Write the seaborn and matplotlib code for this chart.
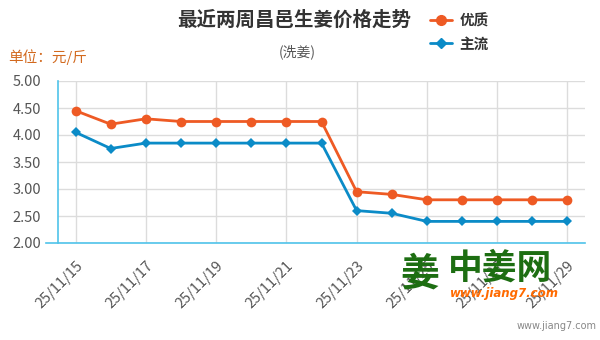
import matplotlib
matplotlib.use("Agg")
import matplotlib.pyplot as plt
from matplotlib.lines import Line2D
import seaborn as sns
import pandas as pd

# Daily ginger prices, Changyi (washed ginger), yuan per jin
dates = ["25/11/15", "25/11/16", "25/11/17", "25/11/18", "25/11/19",
         "25/11/20", "25/11/21", "25/11/22", "25/11/23", "25/11/24",
         "25/11/25", "25/11/26", "25/11/27", "25/11/28", "25/11/29"]
premium = [4.45, 4.20, 4.30, 4.25, 4.25, 4.25, 4.25, 4.25,
           2.95, 2.90, 2.80, 2.80, 2.80, 2.80, 2.80]
mainstream = [4.05, 3.75, 3.85, 3.85, 3.85, 3.85, 3.85, 3.85,
              2.60, 2.55, 2.40, 2.40, 2.40, 2.40, 2.40]
series_names = ["优质", "主流"]
y_ticks = [2.00, 2.50, 3.00, 3.50, 4.00, 4.50, 5.00]

sns.set_theme(style="white")
plt.rcParams["font.family"] = ["Noto Sans CJK SC", "DejaVu Sans"]

ORANGE = "#ee5a24"
BLUE = "#0b8bc7"
AXIS_BLUE = "#4fc3ea"
GRID = "#dcdcdc"
TEXT = "#555555"

df = pd.DataFrame({
    "date": dates * 2,
    "price": premium + mainstream,
    "grade": [series_names[0]] * len(dates) + [series_names[1]] * len(dates),
})

fig = plt.figure(figsize=(6.0, 3.4), dpi=100)
ax = fig.add_axes([58 / 600, 1 - 243 / 340, (585 - 58) / 600, (243 - 81) / 340])

sns.lineplot(data=df, x="date", y="price", hue="grade", style="grade",
             hue_order=series_names, style_order=series_names,
             palette=[ORANGE, BLUE], markers=["o", "D"], dashes=False,
             linewidth=2.0, markersize=7, markeredgewidth=0,
             sort=False, legend=False, ax=ax)
# diamonds read larger than circles at the same size
for ln in ax.lines:
    if ln.get_marker() == "D":
        ln.set_markersize(5.2)

ax.set_xlim(-0.5, len(dates) - 0.5)
ax.set_ylim(2.0, 5.0)
ax.set_yticks(y_ticks)
ax.set_yticklabels([f"{v:.2f}" for v in y_ticks])
xt = list(range(0, len(dates), 2))
ax.set_xticks(xt)
ax.set_xticklabels([dates[i] for i in xt], rotation=45, ha="right",
                   rotation_mode="anchor")

ax.grid(True, color=GRID, linewidth=1.0)
ax.set_axisbelow(True)
for side in ("top", "right"):
    ax.spines[side].set_visible(False)
for side in ("left", "bottom"):
    ax.spines[side].set_visible(True)
    ax.spines[side].set_color(AXIS_BLUE)
    ax.spines[side].set_linewidth(1.2)
ax.spines["bottom"].set_bounds(-0.85, len(dates) - 0.5)
ax.tick_params(axis="both", colors=AXIS_BLUE, labelcolor=TEXT,
               direction="out", length=8, width=1.2, labelsize=10.5)
ax.tick_params(axis="y", pad=4)
ax.tick_params(axis="x", pad=3)
ax.set_xlabel("")
ax.set_ylabel("")

# Titles and unit label
fig.text(0.490, 1 - 20 / 340, "最近两周昌邑生姜价格走势", ha="center", va="center",
         fontsize=14, fontweight="bold", color="#333333")
fig.text(0.495, 1 - 52 / 340, "(洗姜)", ha="center", va="center",
         fontsize=10, color="#555555")
fig.text(8 / 600, 1 - 57 / 340, "单位：元/斤", ha="left", va="center",
         fontsize=10.5, color="#d2691e")

# Legend
handles = [Line2D([], [], color=ORANGE, marker="o", markersize=7, linewidth=2),
           Line2D([], [], color=BLUE, marker="D", markersize=5.2, linewidth=2)]
leg = fig.legend(handles, series_names, loc="upper left",
                 bbox_to_anchor=(417 / 600, 1 + 1 / 340), frameon=False,
                 handlelength=1.5, handletextpad=0.5, labelspacing=0.5,
                 prop={"size": 10.5, "weight": "bold"})
for t in leg.get_texts():
    t.set_color("#333333")

# Site marks
fig.text(420 / 600, 1 - 274 / 340, "姜", ha="center", va="center",
         fontsize=28, fontweight="bold", color="#1d6e12")
fig.text(500 / 600, 1 - 268 / 340, "中姜网", ha="center", va="center",
         fontsize=25, fontweight="bold", color="#1d6e12")
fig.text(504 / 600, 1 - 294 / 340, "www.jiang7.com", ha="center", va="center",
         fontsize=8.5, fontweight="bold", fontstyle="italic", color="#ff6a00",
         family="DejaVu Sans")
fig.text(597 / 600, 1 - 326 / 340, "www.jiang7.com", ha="right", va="center",
         fontsize=7, color="#888888", family="DejaVu Sans")

fig.savefig("out.png", dpi=100, facecolor="white")
